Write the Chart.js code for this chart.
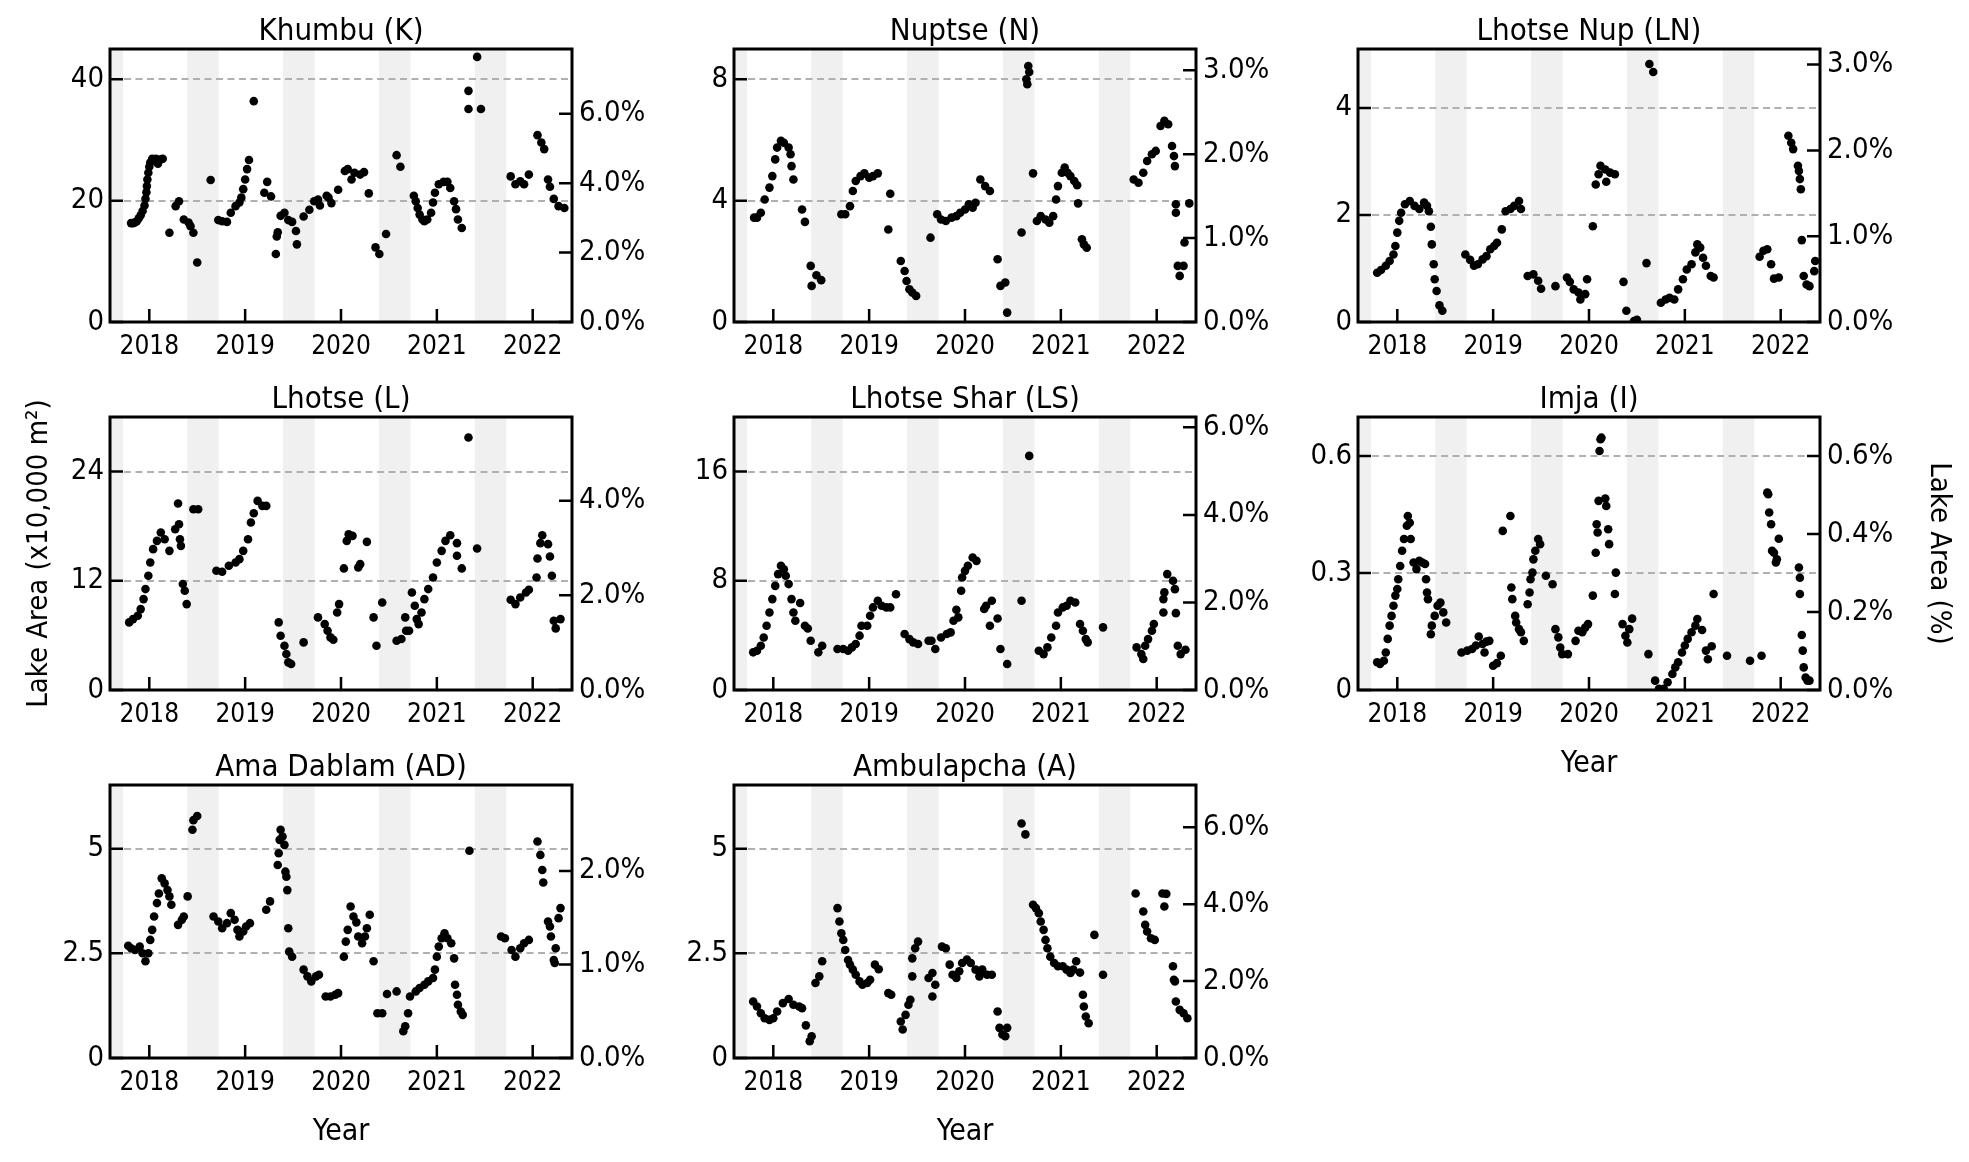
<!DOCTYPE html>
<html lang="en">
<head>
    <meta charset="UTF-8">
    <title>Lake Area by Glacier</title>
    <style>
        body {
            margin: 0;
            padding: 0;
            background-color: white;
        }

        .page {
            position: relative;
            width: 1969px;
            height: 1162px;
            overflow: hidden;
        }

        .panel {
            position: absolute;
            width: 712px;
            height: 422px;
        }
    </style>
</head>
<body>

<div class="page" id="page"></div>

<script src="https://cdn.jsdelivr.net/npm/chart.js"></script>
<script>
    // Decimal year, lake area (x10,000 m2)
    const khumbu = [
        [2017.81,16.3],[2017.83,16.3],[2017.85,16.4],[2017.87,16.6],[2017.89,17.1],[2017.91,17.6],[2017.93,18.3],
        [2017.95,19.2],[2017.96,20.3],[2017.97,21.4],[2017.975,22.4],[2017.98,23.5],[2017.99,24.6],[2018.00,25.6],
        [2018.01,26.3],[2018.03,26.9],[2018.05,26.6],[2018.07,26.9],[2018.09,26.1],[2018.12,26.8],[2018.14,26.9],
        [2018.21,14.7],[2018.275,19.1],[2018.31,19.9],[2018.36,16.9],[2018.41,16.4],[2018.43,15.8],[2018.46,14.7],
        [2018.50,9.8],[2018.64,23.4],
        [2018.72,16.8],[2018.76,16.6],[2018.81,16.5],[2018.85,18.0],[2018.90,19.1],[2018.94,19.7],[2018.96,20.5],
        [2018.98,21.9],[2019.00,23.5],[2019.02,25.2],[2019.04,26.7],[2019.09,36.4],
        [2019.20,21.3],[2019.23,23.1],[2019.27,20.7],[2019.32,11.2],[2019.33,14.1],[2019.34,14.8],
        [2019.37,17.5],[2019.41,18.0],[2019.45,16.8],[2019.49,16.5],[2019.53,15.0],[2019.54,12.8],
        [2019.61,17.4],[2019.67,18.5],[2019.72,19.9],[2019.76,20.2],[2019.78,19.2],[2019.85,20.8],[2019.87,20.5],
        [2019.90,19.6],[2019.97,21.8],[2020.04,24.9],[2020.07,25.2],[2020.11,23.5],[2020.14,24.6],
        [2020.20,24.3],[2020.24,24.7],[2020.29,21.2],[2020.36,12.3],[2020.40,11.2],[2020.47,14.5],
        [2020.58,27.5],[2020.62,25.6],
        [2020.76,20.8],[2020.78,19.9],[2020.80,18.8],[2020.82,17.7],[2020.85,16.9],[2020.87,16.6],[2020.90,16.9],
        [2020.94,18.0],[2020.96,19.7],[2020.98,21.3],[2021.02,22.7],[2021.07,23.1],[2021.11,23.1],[2021.14,22.1],
        [2021.18,19.9],[2021.20,18.6],[2021.22,16.9],[2021.26,15.5],
        [2021.33,38.1],[2021.33,35.1],[2021.42,43.7],[2021.46,35.1],
        [2021.77,24.0],[2021.82,22.7],[2021.87,23.2],[2021.91,22.7],[2021.96,24.3],
        [2022.05,30.8],[2022.09,29.6],[2022.12,28.5],
        [2022.16,23.5],[2022.18,22.3],[2022.22,20.3],[2022.27,19.1],[2022.33,18.8]
    ];

    const nuptse = [
        [2017.80,3.44],[2017.83,3.44],[2017.87,3.60],[2017.91,4.04],[2017.96,4.43],[2017.99,4.81],[2018.02,5.36],
        [2018.04,5.75],[2018.08,5.97],[2018.11,5.91],[2018.16,5.75],[2018.18,5.53],[2018.19,5.14],[2018.21,4.70],
        [2018.30,3.71],[2018.33,3.30],[2018.39,1.85],[2018.40,1.19],[2018.45,1.54],[2018.50,1.38],
        [2018.71,3.55],[2018.75,3.55],[2018.80,3.82],[2018.83,4.32],[2018.86,4.65],[2018.91,4.81],[2018.95,4.90],
        [2019.00,4.76],[2019.04,4.81],[2019.09,4.90],
        [2019.20,3.05],[2019.22,4.23],
        [2019.33,2.01],[2019.37,1.68],[2019.39,1.35],[2019.42,1.08],[2019.45,0.97],[2019.49,0.86],
        [2019.64,2.78],
        [2019.71,3.55],[2019.75,3.38],[2019.80,3.33],[2019.86,3.44],[2019.91,3.49],[2019.95,3.60],[2020.00,3.71],
        [2020.04,3.88],[2020.08,3.77],[2020.11,3.93],
        [2020.16,4.70],[2020.21,4.48],[2020.26,4.32],
        [2020.34,2.07],[2020.37,1.19],[2020.42,1.30],[2020.44,0.31],
        [2020.59,2.95],[2020.64,8.00],[2020.65,7.84],[2020.66,8.44],[2020.67,8.24],[2020.71,4.90],
        [2020.75,3.33],[2020.79,3.49],[2020.84,3.38],[2020.88,3.27],[2020.92,3.49],[2020.95,4.04],[2020.97,4.48],
        [2021.01,4.92],[2021.04,5.09],[2021.07,4.92],[2021.10,4.81],[2021.14,4.65],[2021.17,4.51],
        [2021.18,3.91],[2021.22,2.73],[2021.24,2.56],[2021.27,2.45],
        [2021.76,4.70],[2021.81,4.59],[2021.86,4.92],[2021.90,5.31],[2021.95,5.53],[2021.99,5.64],
        [2022.04,6.46],[2022.08,6.63],[2022.12,6.52],
        [2022.16,5.80],[2022.18,5.47],[2022.19,5.14],[2022.20,3.88],[2022.20,3.60],
        [2022.22,1.85],[2022.24,1.52],[2022.28,1.85],[2022.29,2.62],[2022.34,3.91]
    ];

    const lhotseNup = [
        [2017.79,0.92],[2017.83,0.97],[2017.88,1.05],[2017.92,1.14],[2017.96,1.26],[2017.98,1.42],[2018.00,1.67],
        [2018.02,1.89],[2018.04,2.04],[2018.08,2.20],[2018.13,2.26],[2018.18,2.17],[2018.23,2.11],[2018.28,2.23],
        [2018.31,2.17],[2018.33,2.07],
        [2018.35,1.78],[2018.36,1.45],[2018.38,1.08],[2018.39,0.80],[2018.41,0.58],[2018.44,0.31],[2018.47,0.21],
        [2018.71,1.26],[2018.76,1.16],[2018.80,1.05],[2018.84,1.08],[2018.89,1.17],[2018.93,1.23],[2018.97,1.36],
        [2019.01,1.42],[2019.04,1.48],[2019.09,1.73],[2019.13,2.07],[2019.18,2.11],[2019.22,2.17],[2019.27,2.26],
        [2019.29,2.11],
        [2019.36,0.86],[2019.42,0.89],[2019.47,0.77],[2019.50,0.62],[2019.65,0.67],
        [2019.77,0.83],[2019.80,0.75],[2019.84,0.61],[2019.89,0.55],[2019.91,0.42],[2019.96,0.52],[2019.98,0.80],
        [2020.04,1.79],
        [2020.07,2.57],[2020.10,2.76],[2020.12,2.92],[2020.17,2.85],[2020.18,2.62],[2020.22,2.79],[2020.27,2.76],
        [2020.36,0.75],[2020.39,0.21],[2020.47,0.02],[2020.50,0.04],[2020.60,1.10],
        [2020.63,4.82],[2020.67,4.67],
        [2020.75,0.36],[2020.80,0.42],[2020.84,0.45],[2020.89,0.42],[2020.93,0.61],[2020.98,0.80],[2021.02,0.98],
        [2021.07,1.08],[2021.11,1.30],[2021.13,1.45],[2021.16,1.39],[2021.19,1.20],[2021.22,1.05],[2021.27,0.86],
        [2021.30,0.83],
        [2021.78,1.22],[2021.82,1.33],[2021.86,1.36],[2021.90,1.08],[2021.93,0.81],[2021.98,0.83],
        [2022.08,3.48],[2022.11,3.35],[2022.13,3.23],
        [2022.18,2.92],[2022.19,2.82],[2022.20,2.67],[2022.21,2.48],[2022.22,1.53],
        [2022.24,0.86],[2022.27,0.70],[2022.30,0.67],[2022.35,0.95],[2022.36,1.14]
    ];

    const lhotse = [
        [2017.79,7.43],[2017.83,7.79],[2017.88,8.16],[2017.91,8.89],[2017.94,9.99],[2017.96,11.09],[2017.99,12.55],
        [2018.01,14.01],[2018.04,15.48],[2018.08,16.39],[2018.12,17.31],[2018.16,16.57],[2018.21,15.29],
        [2018.27,17.67],[2018.30,20.49],[2018.31,18.22],[2018.32,16.57],[2018.33,15.84],[2018.35,11.64],
        [2018.37,10.90],[2018.39,9.44],[2018.46,19.87],[2018.51,19.87],
        [2018.70,13.10],[2018.76,12.99],[2018.83,13.65],[2018.90,14.01],[2018.94,14.38],[2018.98,15.29],
        [2019.03,16.57],[2019.06,18.40],[2019.09,19.43],[2019.13,20.78],[2019.18,20.23],[2019.22,20.23],
        [2019.35,7.43],[2019.37,5.96],[2019.41,4.87],[2019.43,3.95],[2019.45,3.04],[2019.48,2.85],
        [2019.61,5.23],
        [2019.76,7.98],[2019.83,7.24],[2019.86,6.51],[2019.89,5.78],[2019.92,5.52],[2019.96,8.52],[2019.98,9.44],
        [2020.03,13.36],[2020.06,16.39],[2020.08,17.12],[2020.12,16.94],
        [2020.18,13.47],[2020.20,13.83],[2020.27,16.28],
        [2020.34,7.98],[2020.37,4.87],[2020.43,9.62],
        [2020.58,5.42],[2020.63,5.60],[2020.67,7.98],[2020.68,6.51],[2020.71,6.51],
        [2020.74,10.72],[2020.77,9.26],[2020.79,7.79],[2020.81,7.24],[2020.84,8.52],[2020.87,9.99],[2020.91,11.09],
        [2020.96,12.37],[2021.00,14.01],[2021.05,15.29],[2021.09,16.39],[2021.14,17.01],
        [2021.21,16.14],[2021.21,14.75],[2021.26,13.36],
        [2021.33,27.74],[2021.42,15.55],
        [2021.77,9.92],[2021.82,9.44],[2021.87,10.17],[2021.93,10.72],[2021.96,11.01],
        [2022.04,12.37],[2022.05,14.45],[2022.08,16.14],[2022.10,17.01],
        [2022.16,16.03],[2022.18,14.67],[2022.20,12.55],
        [2022.22,7.61],[2022.24,6.77],[2022.29,7.79]
    ];

    const lhotseShar = [
        [2017.79,2.76],[2017.83,2.88],[2017.87,3.24],[2017.90,3.85],[2017.93,4.71],[2017.96,5.68],[2017.99,6.66],
        [2018.02,7.63],[2018.05,8.49],[2018.08,9.10],[2018.11,8.85],[2018.13,8.37],[2018.16,7.76],
        [2018.19,6.66],[2018.21,5.68],[2018.23,5.07],[2018.28,6.37],
        [2018.33,4.71],[2018.36,4.51],[2018.39,3.61],[2018.47,2.76],[2018.51,3.24],
        [2018.67,3.00],[2018.73,3.00],[2018.78,2.88],[2018.82,3.12],[2018.86,3.37],[2018.90,3.98],[2018.92,4.71],
        [2018.98,4.71],[2019.01,5.44],[2019.04,6.05],[2019.09,6.54],[2019.13,6.17],[2019.18,6.05],[2019.22,6.05],
        [2019.28,7.02],
        [2019.37,4.10],[2019.42,3.73],[2019.46,3.49],[2019.51,3.37],
        [2019.62,3.61],[2019.65,3.61],[2019.69,3.00],
        [2019.75,3.85],[2019.81,4.10],[2019.85,4.22],[2019.88,5.07],[2019.91,5.88],[2019.93,5.32],
        [2019.96,7.27],[2019.97,8.24],[2020.00,8.73],[2020.03,9.10],[2020.08,9.71],[2020.12,9.46],
        [2020.20,5.93],[2020.22,6.17],[2020.26,4.71],[2020.28,6.54],[2020.34,5.24],
        [2020.37,3.00],[2020.44,1.90],[2020.59,6.54],[2020.67,17.15],
        [2020.77,2.88],[2020.82,2.63],[2020.86,3.12],[2020.90,3.85],[2020.95,4.71],[2020.97,5.68],[2021.02,6.05],
        [2021.06,6.17],[2021.10,6.54],[2021.15,6.41],
        [2021.20,4.83],[2021.23,4.34],[2021.26,3.73],[2021.28,3.49],
        [2021.44,4.59],
        [2021.79,3.12],[2021.84,2.63],[2021.86,2.27],[2021.88,3.24],[2021.91,3.73],[2021.95,4.34],[2021.97,4.83],
        [2022.07,6.66],[2022.08,7.15],[2022.07,5.68],
        [2022.11,8.49],[2022.17,8.00],[2022.19,7.39],[2022.20,5.63],
        [2022.22,3.24],[2022.25,2.63],[2022.30,2.95]
    ];

    const imja = [
        [2017.79,0.071],[2017.82,0.067],[2017.86,0.075],[2017.88,0.096],[2017.90,0.131],[2017.92,0.165],
        [2017.94,0.190],[2017.96,0.216],[2017.98,0.242],[2018.00,0.259],[2018.01,0.284],[2018.03,0.318],
        [2018.05,0.357],[2018.07,0.387],[2018.10,0.421],[2018.11,0.446],[2018.13,0.429],[2018.14,0.387],
        [2018.17,0.327],[2018.20,0.310],[2018.23,0.331],[2018.26,0.327],[2018.29,0.323],[2018.30,0.284],
        [2018.31,0.250],[2018.32,0.233],
        [2018.35,0.143],[2018.36,0.165],[2018.39,0.190],[2018.42,0.216],[2018.45,0.224],[2018.48,0.199],[2018.51,0.173],
        [2018.67,0.096],[2018.73,0.101],[2018.78,0.105],[2018.82,0.114],[2018.85,0.137],[2018.89,0.118],
        [2018.91,0.096],[2018.93,0.124],[2018.96,0.126],
        [2019.00,0.062],[2019.04,0.069],[2019.08,0.088],
        [2019.10,0.408],[2019.18,0.446],
        [2019.19,0.263],[2019.20,0.233],[2019.23,0.190],[2019.24,0.173],[2019.27,0.156],[2019.29,0.148],[2019.32,0.126],
        [2019.36,0.220],[2019.38,0.250],[2019.39,0.284],[2019.41,0.301],[2019.42,0.335],[2019.44,0.357],
        [2019.47,0.387],[2019.49,0.374],[2019.55,0.293],[2019.62,0.271],
        [2019.65,0.156],[2019.68,0.135],[2019.70,0.109],[2019.72,0.092],[2019.78,0.092],
        [2019.86,0.126],[2019.89,0.152],[2019.93,0.148],[2019.96,0.160],[2019.99,0.169],
        [2020.04,0.242],[2020.07,0.352],[2020.08,0.425],[2020.09,0.404],[2020.10,0.485],[2020.11,0.613],
        [2020.12,0.643],[2020.13,0.647],
        [2020.17,0.491],[2020.18,0.472],[2020.20,0.412],[2020.21,0.374],
        [2020.27,0.246],[2020.28,0.301],
        [2020.35,0.169],[2020.38,0.139],[2020.40,0.122],[2020.42,0.156],[2020.45,0.183],
        [2020.62,0.092],[2020.69,0.024],
        [2020.73,0.003],[2020.78,0.003],[2020.82,0.020],[2020.87,0.041],[2020.90,0.058],[2020.93,0.071],
        [2020.97,0.096],[2021.00,0.114],[2021.03,0.131],[2021.07,0.148],[2021.11,0.165],[2021.13,0.182],[2021.18,0.154],
        [2021.22,0.101],[2021.24,0.079],[2021.28,0.112],[2021.30,0.246],
        [2021.44,0.088],[2021.68,0.075],[2021.80,0.088],
        [2021.86,0.506],[2021.87,0.502],[2021.88,0.455],[2021.90,0.425],[2021.91,0.357],[2021.93,0.352],
        [2021.95,0.327],[2021.96,0.335],[2021.98,0.388],
        [2022.19,0.314],[2022.20,0.288],[2022.20,0.246],[2022.22,0.141],[2022.23,0.101],[2022.24,0.058],
        [2022.26,0.032],[2022.28,0.024],[2022.30,0.024]
    ];

    const amaDablam = [
        [2017.78,2.68],[2017.81,2.62],[2017.85,2.58],[2017.90,2.66],[2017.93,2.50],[2017.96,2.31],[2017.99,2.50],
        [2018.01,2.82],[2018.03,3.06],[2018.05,3.38],[2018.08,3.70],[2018.10,3.93],[2018.13,4.29],[2018.16,4.17],
        [2018.19,4.01],[2018.21,3.86],[2018.23,3.66],
        [2018.30,3.18],[2018.34,3.30],[2018.36,3.38],[2018.40,3.86],
        [2018.45,5.45],[2018.46,5.68],[2018.50,5.78],
        [2018.67,3.38],[2018.72,3.26],[2018.76,3.10],[2018.81,3.22],[2018.85,3.46],[2018.89,3.30],[2018.92,3.06],
        [2018.94,2.90],[2018.98,3.02],[2019.01,3.14],[2019.05,3.22],
        [2019.22,3.54],[2019.26,3.74],
        [2019.34,4.61],[2019.35,4.89],[2019.36,5.21],[2019.37,5.45],[2019.39,5.29],[2019.41,5.09],
        [2019.42,4.45],[2019.43,4.33],[2019.44,4.01],[2019.45,3.10],[2019.46,2.54],[2019.49,2.42],
        [2019.61,2.11],[2019.65,1.95],[2019.69,1.83],[2019.74,1.95],[2019.77,1.99],
        [2019.84,1.47],[2019.89,1.47],[2019.94,1.51],[2019.97,1.55],
        [2020.03,2.42],[2020.05,2.78],[2020.07,3.06],[2020.10,3.62],[2020.13,3.38],[2020.16,3.24],
        [2020.18,2.90],[2020.22,2.74],[2020.25,2.90],[2020.27,3.10],[2020.30,3.42],
        [2020.34,2.31],[2020.38,1.07],[2020.43,1.07],[2020.48,1.53],[2020.58,1.59],
        [2020.65,0.64],[2020.67,0.76],[2020.70,1.07],
        [2020.72,1.47],[2020.78,1.59],[2020.82,1.67],[2020.87,1.75],[2020.91,1.83],[2020.96,1.91],[2020.98,2.11],
        [2021.00,2.42],[2021.02,2.66],[2021.05,2.86],[2021.08,2.98],[2021.11,2.86],[2021.15,2.74],
        [2021.18,2.38],[2021.19,1.75],[2021.21,1.51],[2021.22,1.27],[2021.25,1.11],[2021.27,1.03],
        [2021.34,4.95],
        [2021.67,2.90],[2021.71,2.86],[2021.78,2.58],[2021.82,2.42],[2021.87,2.62],[2021.91,2.74],[2021.96,2.82],
        [2022.05,5.17],[2022.08,4.85],[2022.10,4.49],[2022.11,4.19],
        [2022.16,3.26],[2022.18,3.14],[2022.19,2.90],[2022.22,2.34],[2022.23,2.27],[2022.24,2.62],
        [2022.27,3.34],[2022.29,3.58]
    ];

    const ambulapcha = [
        [2017.79,1.35],[2017.83,1.23],[2017.87,1.07],[2017.91,0.95],[2017.96,0.91],[2018.00,0.95],[2018.04,1.11],
        [2018.10,1.31],[2018.16,1.41],[2018.21,1.27],[2018.27,1.23],[2018.30,1.19],
        [2018.34,0.78],[2018.38,0.40],[2018.40,0.52],
        [2018.44,1.79],[2018.48,1.95],[2018.51,2.31],
        [2018.67,3.58],[2018.69,3.26],[2018.71,2.98],[2018.73,2.82],[2018.75,2.58],[2018.78,2.34],[2018.80,2.23],
        [2018.83,2.11],[2018.86,1.99],[2018.90,1.83],[2018.93,1.75],[2018.98,1.79],[2019.01,1.87],
        [2019.06,2.23],[2019.10,2.12],[2019.20,1.55],[2019.23,1.51],
        [2019.33,0.87],[2019.35,0.68],[2019.38,1.03],[2019.41,1.27],[2019.43,1.39],
        [2019.45,1.95],[2019.45,2.38],[2019.48,2.62],[2019.51,2.78],
        [2019.62,1.91],[2019.66,2.03],[2019.66,1.47],[2019.69,1.75],
        [2019.76,2.66],[2019.80,2.62],
        [2019.84,2.23],[2019.87,1.99],[2019.91,1.91],[2019.94,2.07],[2019.97,2.27],[2020.02,2.35],[2020.06,2.27],
        [2020.11,2.11],[2020.15,1.95],[2020.18,2.11],[2020.23,1.99],[2020.28,1.99],
        [2020.34,1.11],[2020.36,0.72],[2020.39,0.56],[2020.42,0.52],[2020.44,0.72],
        [2020.59,5.60],[2020.63,5.34],
        [2020.71,3.66],[2020.74,3.58],[2020.77,3.46],[2020.79,3.26],[2020.82,3.06],[2020.84,2.82],[2020.86,2.62],
        [2020.89,2.42],[2020.93,2.27],[2020.97,2.19],[2021.02,2.19],[2021.06,2.11],[2021.10,2.03],[2021.13,2.11],
        [2021.16,2.31],
        [2021.20,2.04],[2021.23,1.51],[2021.24,1.23],[2021.26,0.99],[2021.29,0.83],
        [2021.35,2.94],[2021.44,1.99],
        [2021.78,3.93],[2021.86,3.50],[2021.88,3.18],[2021.90,3.02],[2021.94,2.86],[2021.98,2.82],
        [2022.06,3.93],[2022.10,3.92],[2022.08,3.62],
        [2022.17,2.19],[2022.18,1.87],[2022.19,1.83],[2022.20,1.35],[2022.24,1.15],[2022.28,1.07],[2022.32,0.95]
    ];

    // June-September shading
    const monsoonBands = [
        [2017.395, 2017.725], [2018.395, 2018.725], [2019.395, 2019.725],
        [2020.395, 2020.725], [2021.395, 2021.725]
    ];
    const yearTicks = [2018, 2019, 2020, 2021, 2022];

    const FONT = "'DejaVu Sans Condensed', 'DejaVu Sans', sans-serif";
    const X_MIN = 2017.59, X_MAX = 2022.41;

    const panels = [
        { title: 'Khumbu (K)', data: khumbu, max: 45, ticks: [0, 20, 40], pctMax: 7.87, pctTicks: [0, 2, 4, 6] },
        { title: 'Nuptse (N)', data: nuptse, max: 9.0, ticks: [0, 4, 8], pctMax: 3.254, pctTicks: [0, 1, 2, 3] },
        { title: 'Lhotse Nup (LN)', data: lhotseNup, max: 5.1, ticks: [0, 2, 4], pctMax: 3.182, pctTicks: [0, 1, 2, 3] },
        { title: 'Lhotse (L)', data: lhotse, max: 30, ticks: [0, 12, 24], pctMax: 5.77, pctTicks: [0, 2, 4], yTitle: true },
        { title: 'Lhotse Shar (LS)', data: lhotseShar, max: 20, ticks: [0, 8, 16], pctMax: 6.236, pctTicks: [0, 2, 4, 6] },
        { title: 'Imja (I)', data: imja, max: 0.7, ticks: [0, 0.3, 0.6], pctMax: 0.70, pctTicks: [0, 0.2, 0.4, 0.6], pctTitle: true, xTitle: true },
        { title: 'Ama Dablam (AD)', data: amaDablam, max: 6.52, ticks: [0, 2.5, 5], pctMax: 2.918, pctTicks: [0, 1, 2], xTitle: true },
        { title: 'Ambulapcha (A)', data: ambulapcha, max: 6.52, ticks: [0, 2.5, 5], pctMax: 7.1, pctTicks: [0, 2, 4, 6], xTitle: true }
    ];

    // canvas offsets for the 3x3 grid
    const colLeft = [0, 624, 1248];
    const rowTop = [0, 368, 736];

    function makeDecor(p) {
        return {
            id: 'decor',
            beforeDatasetsDraw(chart) {
                const { ctx, chartArea: a, scales } = chart;
                ctx.save();
                ctx.beginPath();
                ctx.rect(a.left, a.top, a.width, a.height);
                ctx.clip();
                ctx.fillStyle = '#f0f0f0';
                monsoonBands.forEach(([s, e]) => {
                    const x0 = scales.x.getPixelForValue(s);
                    const x1 = scales.x.getPixelForValue(e);
                    ctx.fillRect(x0, a.top, x1 - x0, a.height);
                });
                ctx.strokeStyle = '#b0b0b0';
                ctx.lineWidth = 2.2;
                ctx.setLineDash([7, 4.5]);
                p.ticks.forEach(v => {
                    if (v <= 0) return;
                    const py = Math.round(scales.y.getPixelForValue(v));
                    ctx.beginPath();
                    ctx.moveTo(a.left + 14, py);
                    ctx.lineTo(a.right, py);
                    ctx.stroke();
                });
                ctx.restore();
            },
            afterDatasetsDraw(chart) {
                const { ctx, chartArea: a, scales } = chart;
                const len = 13;
                ctx.save();
                ctx.strokeStyle = '#000';
                ctx.lineWidth = 2.5;
                ctx.beginPath();
                p.ticks.forEach(v => {
                    const py = scales.y.getPixelForValue(v);
                    ctx.moveTo(a.left, py);
                    ctx.lineTo(a.left + len, py);
                });
                p.pctTicks.forEach(v => {
                    const py = scales.y2.getPixelForValue(v);
                    ctx.moveTo(a.right, py);
                    ctx.lineTo(a.right - len, py);
                });
                yearTicks.forEach(v => {
                    const px = scales.x.getPixelForValue(v);
                    ctx.moveTo(px, a.bottom);
                    ctx.lineTo(px, a.bottom - len);
                });
                ctx.stroke();
                ctx.lineWidth = 3;
                ctx.strokeRect(a.left, a.top, a.width, a.height);
                ctx.restore();
            }
        };
    }

    const page = document.getElementById('page');

    panels.forEach((p, i) => {
        const holder = document.createElement('div');
        holder.className = 'panel';
        holder.style.left = colLeft[i % 3] + 'px';
        holder.style.top = rowTop[Math.floor(i / 3)] + 'px';
        const canvas = document.createElement('canvas');
        canvas.width = 712;
        canvas.height = 422;
        holder.appendChild(canvas);
        page.appendChild(holder);

        new Chart(canvas, {
            type: 'scatter',
            data: {
                datasets: [{
                    data: p.data.map(([x, y]) => ({ x, y })),
                    backgroundColor: '#000',
                    borderWidth: 0,
                    pointRadius: 4.3,
                    pointHoverRadius: 4.3
                }]
            },
            options: {
                responsive: false,
                animation: false,
                events: [],
                layout: { padding: 0 },
                plugins: {
                    legend: { display: false },
                    tooltip: { enabled: false },
                    title: {
                        display: true,
                        text: p.title,
                        fullSize: false,
                        color: '#000',
                        font: { family: FONT, size: 31, weight: 'normal', lineHeight: 1 },
                        padding: { top: 16.5, bottom: 1.5 }
                    }
                },
                scales: {
                    x: {
                        type: 'linear',
                        min: X_MIN,
                        max: X_MAX,
                        afterBuildTicks: s => { s.ticks = yearTicks.map(v => ({ value: v })); },
                        afterFit: s => { s.height = 100; },
                        grid: { display: false, drawTicks: false },
                        border: { display: false },
                        ticks: {
                            autoSkip: false,
                            maxRotation: 0,
                            padding: 10,
                            color: '#000',
                            font: { family: FONT, size: 26 },
                            callback: v => String(v)
                        },
                        title: {
                            display: !!p.xTitle,
                            text: 'Year',
                            color: '#000',
                            font: { family: FONT, size: 30 },
                            padding: { top: 0, bottom: 8 }
                        }
                    },
                    y: {
                        position: 'left',
                        min: 0,
                        max: p.max,
                        afterBuildTicks: s => { s.ticks = p.ticks.map(v => ({ value: v })); },
                        afterFit: s => { s.width = 110; },
                        grid: { display: false, drawTicks: false },
                        border: { display: false },
                        ticks: {
                            padding: 6,
                            color: '#000',
                            font: { family: FONT, size: 29 },
                            callback: v => String(v)
                        },
                        title: {
                            display: !!p.yTitle,
                            text: 'Lake Area (x10,000 m\u00B2)',
                            color: '#000',
                            font: { family: FONT, size: 29 },
                            padding: { top: 22, bottom: 0 }
                        }
                    },
                    y2: {
                        position: 'right',
                        min: 0,
                        max: p.pctMax,
                        afterBuildTicks: s => { s.ticks = p.pctTicks.map(v => ({ value: v })); },
                        afterFit: s => { s.width = 140; },
                        grid: { display: false, drawTicks: false },
                        border: { display: false },
                        ticks: {
                            padding: 7,
                            color: '#000',
                            font: { family: FONT, size: 29 },
                            callback: v => v.toFixed(1) + '%'
                        },
                        title: {
                            display: !!p.pctTitle,
                            text: 'Lake Area (%)',
                            color: '#000',
                            font: { family: FONT, size: 29 },
                            padding: { top: 4, bottom: 0 }
                        }
                    }
                }
            },
            plugins: [makeDecor(p)]
        });
    });
</script>
</body>
</html>
